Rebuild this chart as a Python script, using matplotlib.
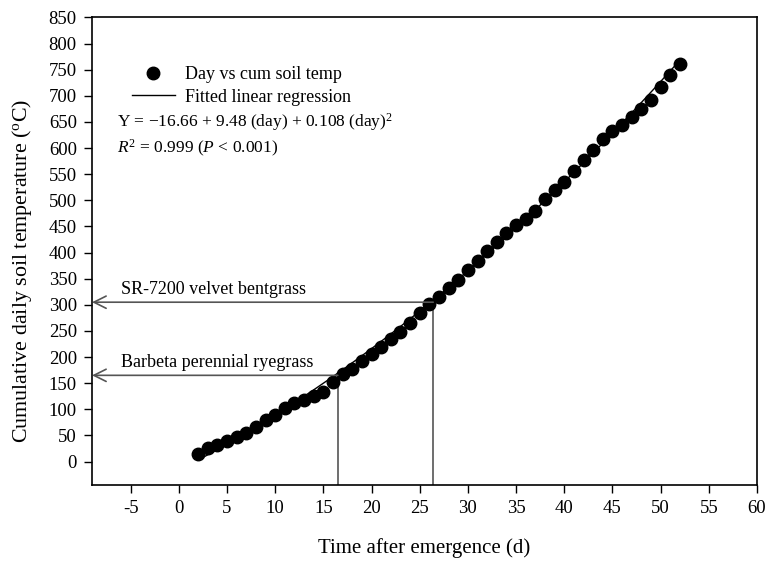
import matplotlib
matplotlib.use("Agg")
import matplotlib.pyplot as plt
import numpy as np

plt.rcParams['font.family'] = ['Liberation Serif', 'DejaVu Serif']
plt.rcParams['mathtext.fontset'] = 'custom'
plt.rcParams['mathtext.rm'] = 'Liberation Serif'
plt.rcParams['mathtext.it'] = 'Liberation Serif:italic'
plt.rcParams['axes.unicode_minus'] = False

# days after emergence and cumulative soil temperature
day = list(range(2, 53))
cum_temp = [15, 26, 31, 40, 47, 55, 66, 79, 89, 102,
            112, 117, 125, 133, 152, 167, 178, 192, 206, 220,
            234, 248, 265, 284, 302, 315, 332, 348, 366, 384,
            403, 420, 438, 452, 464, 480, 502, 519, 536, 556,
            577, 596, 617, 632, 645, 659, 674, 693, 717, 739, 761]

# regression coefficients
b0, b1, b2 = -16.66, 9.48, 0.108

# species thresholds: (label, day, cumulative temperature)
species = ["Barbeta perennial ryegrass", "SR-7200 velvet bentgrass"]
sp_day = [16.5, 26.4]
sp_temp = [165, 305]

fig = plt.figure(figsize=(7.67, 5.64), dpi=100)
ax = fig.add_axes([0.12, 0.14, 0.867, 0.829])

xfit = np.linspace(day[0], day[-1], 200)
yfit = b0 + b1 * xfit + b2 * xfit ** 2

ax.plot(day, cum_temp, 'o', color='black', ms=9, label="Day vs cum soil temp", zorder=3)
ax.plot(xfit, yfit, '-', color='black', lw=1, label="Fitted linear regression", zorder=2)

xmin, ymin = -9, -45
for lab, d, t in zip(species, sp_day, sp_temp):
    ax.plot([d, d], [ymin, t], color='#555555', lw=1.2, zorder=1)
    ax.annotate("", xy=(xmin, t), xytext=(d, t),
                arrowprops=dict(arrowstyle='->', color='#555555', lw=1.2,
                                mutation_scale=22, shrinkA=0, shrinkB=0))
    ax.text(-6.0, t + 8, lab, fontsize=13, ha='left', va='bottom')

ax.text(-6.4, 650, r"Y = $-$16.66 + 9.48 (day) + 0.108 (day)$^2$", fontsize=12.5,
        ha='left', va='center')
ax.text(-6.4, 600, r"$R^2$ = 0.999 ($P$ < 0.001)", fontsize=12.5, ha='left', va='center')

leg = ax.legend(loc='upper left', bbox_to_anchor=(0.035, 0.93), frameon=False,
                fontsize=13, handlelength=2.4, handletextpad=0.55, labelspacing=0.28)

ax.set_xlim(xmin, 60)
ax.set_ylim(ymin, 850)
ax.set_xticks(np.arange(-5, 61, 5))
ax.set_yticks(np.arange(0, 851, 50))
ax.tick_params(direction='out', length=6, width=1, labelsize=13.5, pad=5)
for s in ax.spines.values():
    s.set_linewidth(1.2)

ax.set_xlabel("Time after emergence (d)", fontsize=15)
ax.set_ylabel(r"Cumulative daily soil temperature ($^{\mathrm{o}}$C)", fontsize=15.8)
ax.xaxis.set_label_coords(0.5, -0.113)
ax.yaxis.set_label_coords(-0.087, 0.457)

fig.savefig("out.png", dpi=100)
